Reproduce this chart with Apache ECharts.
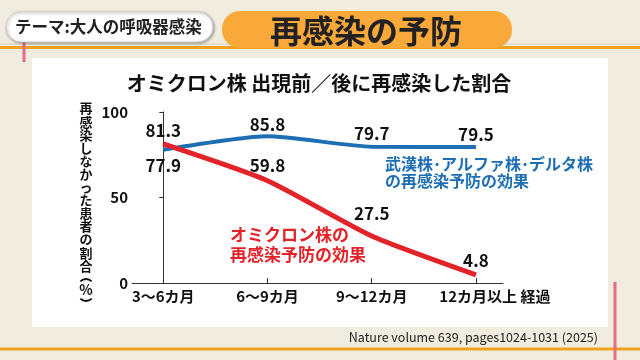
<!DOCTYPE html>
<html><head><meta charset="utf-8">
<script src="https://cdn.jsdelivr.net/npm/echarts@6/dist/echarts.min.js"></script>
<style>html,body{margin:0;padding:0;background:#f1ece0}#c{width:640px;height:360px}</style>
</head><body><div id="c"></div>
<script>
const categories = ['3～6カ月', '6～9カ月', '9～12カ月', '12カ月以上 経過'];
const preOmicron = [77.9, 85.8, 79.7, 79.5];
const omicron = [81.3, 59.8, 27.5, 4.8];
const yTicks = [0, 50, 100];
const preLabelPos = ['bottom', 'top', 'top', 'top'];
const preLabelDist = [7, 3, 4, 4];
const omiLabelPos = ['top', 'top', 'top', 'top'];
const omiLabelDist = [4, 6, 13, 5];

const FONT = '"Noto Sans CJK JP", "Noto Sans", sans-serif';
const BLUE = '#1e6eb4';
const RED = '#e3232a';

const chart = echarts.init(document.getElementById('c'));
const catIdx = categories.map((c, i) => i);

function mk(vals, pos, dist) {
  return vals.map((v, i) => ({ value: [i, v], label: { position: pos[i], distance: dist[i] } }));
}

function txt(x, y, text, size, weight, color, align, vAlign, extra) {
  return Object.assign({ type: 'text', z: 10, x: x, y: y, style: { text: text, fontSize: size, fontWeight: weight, fontFamily: FONT, fill: color, align: align, verticalAlign: vAlign } }, extra || {});
}

const yName = '再感染しなかった患者の割合'.split('');
const graphics = [
  { type: 'rect', z: -100, shape: { x: 32, y: 58, width: 576, height: 269 }, style: { fill: '#ffffff' } },
  { type: 'line', z: -90, shape: { x1: 0, y1: 44, x2: 640, y2: 44 }, style: { stroke: '#d9d2c4', lineWidth: 1 } },
  { type: 'line', z: -90, shape: { x1: 0, y1: 47.5, x2: 640, y2: 47.5 }, style: { stroke: '#f0a21e', lineWidth: 3 } },
  { type: 'line', z: -90, shape: { x1: 0, y1: 349, x2: 640, y2: 349 }, style: { stroke: '#f0a21e', lineWidth: 3 } },
  { type: 'line', z: -80, shape: { x1: 24, y1: 40, x2: 24, y2: 62 }, style: { stroke: '#e86a85', lineWidth: 3 } },
  { type: 'line', z: -80, shape: { x1: 615, y1: 282, x2: 615, y2: 360 }, style: { stroke: '#e86a85', lineWidth: 3 } },
  { type: 'rect', z: -70, shape: { x: 6, y: 12, width: 207, height: 30, r: 15 }, style: { fill: '#ffffff', stroke: '#cfcfcf', lineWidth: 1, shadowBlur: 3, shadowOffsetX: 1, shadowOffsetY: 1, shadowColor: 'rgba(0,0,0,0.35)' } },
  txt(15, 27, 'テーマ:大人の呼吸器感染', 16.5, 'bold', '#222', 'left', 'middle', { z: -60 }),
  { type: 'rect', z: -70, shape: { x: 222, y: 11, width: 290, height: 37, r: 18 }, style: { fill: '#f9a93a' } },
  txt(366, 31, '再感染の予防', 32, 'bold', '#222', 'center', 'middle', { z: -60 }),
  txt(319, 83, 'オミクロン株 出現前／後に再感染した割合', 20, 'bold', '#111', 'center', 'middle'),
  { type: 'text', z: 10, x: 86, y: 102, style: { text: yName.join('\n'), fontSize: 13, fontWeight: 'bold', fontFamily: FONT, lineHeight: 13.1, fill: '#111', align: 'center', verticalAlign: 'top' } },
  { type: 'arc', z: 10, shape: { cx: 86, cy: 287, r: 8, startAngle: Math.PI * 1.25, endAngle: Math.PI * 1.75, clockwise: true }, style: { stroke: '#111', lineWidth: 1.8, fill: null } },
  txt(86, 290, '%', 14, 'bold', '#111', 'center', 'middle'),
  { type: 'arc', z: 10, shape: { cx: 86, cy: 293, r: 8, startAngle: Math.PI * 0.25, endAngle: Math.PI * 0.75, clockwise: true }, style: { stroke: '#111', lineWidth: 1.8, fill: null } },
  { type: 'text', z: 10, x: 385, y: 156, style: { text: '武漢株･アルファ株･デルタ株\nの再感染予防の効果', fontSize: 16, fontWeight: 'bold', fontFamily: FONT, lineHeight: 16.5, fill: BLUE, align: 'left', verticalAlign: 'top' } },
  { type: 'text', z: 10, x: 230, y: 225, style: { text: 'オミクロン株の\n再感染予防の効果', fontSize: 17, fontWeight: 'bold', fontFamily: FONT, lineHeight: 20, fill: RED, align: 'left', verticalAlign: 'top' } },
  txt(598, 337, 'Nature volume 639, pages1024-1031 (2025)', 12.5, 'normal', '#222', 'right', 'middle')
];

chart.setOption({
  animation: false,
  backgroundColor: '#f1ece0',
  textStyle: { fontFamily: FONT },
  grid: { left: 132, right: 137, top: 112, bottom: 77, containLabel: false },
  xAxis: {
    type: 'value', min: -0.3, max: 3.26,
    splitLine: { show: false },
    axisLine: { show: true, lineStyle: { color: '#333', width: 1 } },
    axisTick: { show: true, inside: true, length: 5, customValues: catIdx, lineStyle: { color: '#333' } },
    axisLabel: {
      customValues: catIdx, margin: 6,
      formatter: v => { const i = Math.round(v); return i === 3 ? '{s|}{t|' + categories[i] + '}' : '{t|' + categories[i] + '}'; },
      rich: { s: { width: 38 }, t: { fontSize: 15, fontWeight: 'bold', color: '#111', fontFamily: FONT } }
    }
  },
  yAxis: {
    type: 'value', min: 0, max: 100, interval: 50,
    splitLine: { show: false },
    axisLine: { show: true, lineStyle: { color: '#333', width: 1 } },
    axisTick: { show: true, length: 4, lineStyle: { color: '#333' } },
    axisLabel: { margin: 4, fontSize: 15, fontWeight: 'bold', color: '#111', fontFamily: FONT,
      formatter: v => yTicks.includes(v) ? String(v) : '' }
  },
  series: [
    {
      type: 'line', data: mk(preOmicron, preLabelPos, preLabelDist), smooth: 0.2,
      symbol: 'circle', symbolSize: 1, itemStyle: { color: BLUE },
      lineStyle: { color: BLUE, width: 4 },
      label: { show: true, fontSize: 17, fontWeight: 'bold', color: '#111', fontFamily: FONT, formatter: p => p.value[1].toFixed(1) },
      z: 3
    },
    {
      type: 'line', data: mk(omicron, omiLabelPos, omiLabelDist), smooth: 0.2,
      symbol: 'circle', symbolSize: 1, itemStyle: { color: RED },
      lineStyle: { color: RED, width: 5 },
      label: { show: true, fontSize: 17, fontWeight: 'bold', color: '#111', fontFamily: FONT, formatter: p => p.value[1].toFixed(1) },
      z: 4
    }
  ],
  graphic: graphics
});
</script></body></html>
